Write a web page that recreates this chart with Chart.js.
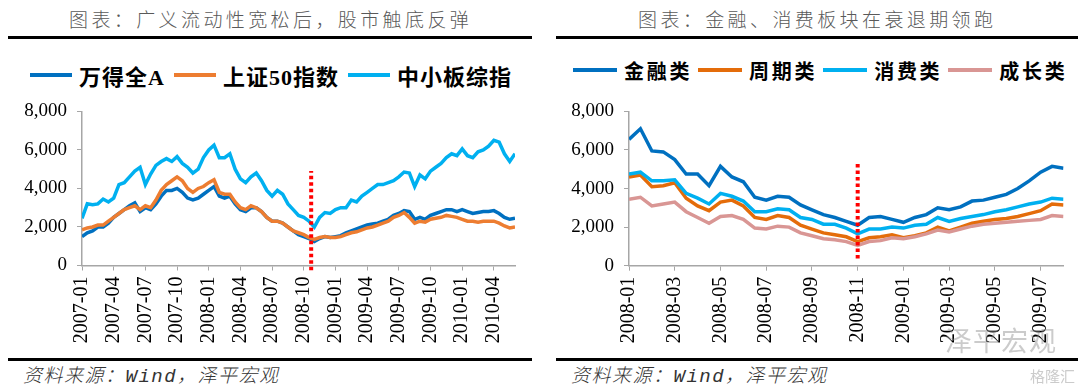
<!DOCTYPE html>
<html>
<head>
<meta charset="utf-8">
<script src="https://cdn.jsdelivr.net/npm/chart.js@4.4.0/dist/chart.umd.min.js"></script>
<style>
  body { margin: 0; width: 1080px; height: 384px; background: #fff; position: relative; overflow: hidden; }
  .title { position: absolute; top: 6px; line-height: 26px; font-family: "Noto Sans CJK SC", sans-serif; font-weight: 300;
           font-size: 19px; letter-spacing: 3.4px; color: #595959; white-space: nowrap; }
  .rule { position: absolute; height: 3px; background: #000; }
  .legend { position: absolute; display: flex; align-items: center; height: 28px; white-space: nowrap;
            font-family: "Liberation Serif", "Noto Sans CJK SC", serif; font-weight: bold; color: #000; }
  .legend i { display: inline-block; height: 4px; margin-right: 7px; }
  #legendLeft { font-size: 22px; letter-spacing: 1px; }
  #legendLeft i { width: 42px; }
  #legendLeft span { margin-right: 9px; }
  #legendRight { font-size: 20px; letter-spacing: 2.7px; }
  #legendRight i { width: 44px; }
  #legendRight span { margin-right: 6px; }
  .source { position: absolute; top: 364px; line-height: 26px; font-family: "Liberation Mono", "Noto Sans CJK SC", monospace;
            font-style: italic; font-weight: 300; font-size: 19px; letter-spacing: 1.5px; color: #333; white-space: nowrap; }
  .box { position: absolute; top: 90px; width: 540px; height: 270px; }
  .mark { position: absolute; font-family: "Noto Sans CJK SC", sans-serif; color: rgba(140,140,140,0.45); white-space: nowrap; }
</style>
</head>
<body>
<div class="title" style="left:69px">图表：广义流动性宽松后，股市触底反弹</div>
<div class="title" style="left:638px">图表：金融、消费板块在衰退期领跑</div>
<div class="rule" style="left:8px;top:36px;width:524px"></div>
<div class="rule" style="left:556px;top:36px;width:522px"></div>

<div class="legend" style="left:30px;top:61px" id="legendLeft"></div>
<div class="legend" style="left:573px;top:56px" id="legendRight"></div>

<div class="box" style="left:0px"><canvas id="leftChart"></canvas></div>
<div class="box" style="left:540px"><canvas id="rightChart"></canvas></div>

<div class="mark" style="left:945px;top:320px;font-size:27px;letter-spacing:1px">泽平宏观</div>
<div class="mark" style="left:1030px;top:365px;font-size:15px">格隆汇</div>

<div class="rule" style="left:8px;top:358px;width:524px"></div>
<div class="rule" style="left:556px;top:358px;width:522px"></div>
<div class="source" style="left:23px">资料来源：Wind，泽平宏观</div>
<div class="source" style="left:571px">资料来源：Wind，泽平宏观</div>

<script>
// ---- left chart: half-monthly readings from 2007-01 to 2010-05 ----
var leftStep = 0.5;   // months between readings
var leftTickLabels = ['2007-01', '2007-04', '2007-07', '2007-10', '2008-01', '2008-04', '2008-07',
                      '2008-10', '2009-01', '2009-04', '2009-07', '2009-10', '2010-01', '2010-04'];
var windA = [1500, 1700, 1800, 2000, 2000, 2200, 2500, 2700, 2900, 3100, 3250, 2800, 3000, 2900,
             3200, 3600, 3900, 3900, 4000, 3800, 3500, 3400, 3500, 3700, 3900, 4100, 3600, 3500,
             3600, 3200, 2900, 2800, 3000, 3000, 2800, 2500, 2300, 2300, 2200, 2000, 1800, 1600,
             1500, 1400, 1250, 1400, 1500, 1450, 1500, 1550, 1700, 1800, 1900, 2000, 2100, 2150,
             2200, 2300, 2400, 2600, 2700, 2850, 2800, 2400, 2500, 2400, 2600, 2700, 2800, 2900,
             2900, 2800, 2900, 2800, 2700, 2750, 2800, 2800, 2850, 2700, 2500, 2400, 2450];
var sse50 = [1850, 1950, 2000, 2100, 2100, 2300, 2500, 2700, 2900, 3000, 3100, 2900, 3100, 3000,
             3400, 3900, 4200, 4400, 4600, 4400, 4000, 3800, 4000, 4100, 4300, 4450, 3800, 3700,
             3700, 3300, 3000, 2900, 3100, 3000, 2800, 2500, 2300, 2300, 2200, 2000, 1800, 1700,
             1600, 1450, 1350, 1450, 1500, 1450, 1450, 1500, 1600, 1700, 1750, 1850, 1950, 2000,
             2100, 2200, 2300, 2500, 2600, 2750, 2500, 2200, 2300, 2250, 2400, 2450, 2500, 2600,
             2550, 2500, 2400, 2300, 2300, 2250, 2300, 2300, 2300, 2200, 2050, 1950, 2000];
var smeComposite = [2450, 3200, 3150, 3200, 3450, 3300, 3500, 4200, 4300, 4600, 4900, 5100, 4200, 4750,
             5200, 5400, 5550, 5400, 5650, 5300, 5100, 4800, 5000, 5600, 6000, 6250, 5600, 5600,
             5800, 5000, 4500, 4300, 4600, 4800, 4400, 3900, 3600, 3900, 3700, 3200, 2900, 2600,
             2500, 2300, 2000, 2500, 2750, 2700, 2900, 3000, 3000, 3400, 3300, 3600, 3800, 4000,
             4200, 4200, 4300, 4400, 4600, 4850, 4800, 4100, 4700, 4500, 4900, 5100, 5300, 5600,
             5800, 5700, 6050, 5700, 5600, 5900, 6000, 6200, 6500, 6400, 5800, 5400, 5800];
var leftMarker = { month: 21.7, low: -250, high: 4900 };   // late Nov 2008

// ---- right chart: half-monthly readings from 2008-01 to 2009-08 ----
var rightStep = 0.5;
var rightTickLabels = ['2008-01', '2008-03', '2008-05', '2008-07', '2008-09',
                       '2008-11', '2009-01', '2009-03', '2009-05', '2009-07'];
var finance = [6550, 7100, 5950, 5900, 5500, 4750, 4750, 4150, 5150, 4600, 4350, 3550, 3400, 3600,
               3550, 3150, 2900, 2650, 2500, 2300, 2100, 2500, 2550, 2400, 2250, 2500, 2650, 3000,
               2900, 3050, 3350, 3400, 3550, 3700, 4000, 4400, 4850, 5150, 5050];
var cyclical = [4600, 4700, 4100, 4150, 4300, 3500, 3100, 2850, 3300, 3400, 3100, 2500, 2400, 2600,
               2500, 2100, 1900, 1700, 1600, 1500, 1250, 1450, 1500, 1600, 1450, 1550, 1700, 2000,
               1800, 2000, 2200, 2300, 2400, 2450, 2550, 2700, 2850, 3200, 3150];
var consumer = [4750, 4850, 4400, 4400, 4450, 3750, 3500, 3200, 3750, 3600, 3350, 2800, 2800, 2950,
               2900, 2500, 2400, 2150, 2150, 1950, 1650, 1900, 1900, 2000, 1950, 2100, 2150, 2500,
               2300, 2450, 2550, 2650, 2800, 2900, 3050, 3200, 3300, 3500, 3450];
var growth = [3450, 3550, 3100, 3200, 3300, 2800, 2500, 2200, 2550, 2600, 2400, 1950, 1900, 2050,
               2000, 1700, 1550, 1400, 1350, 1250, 1050, 1250, 1300, 1450, 1400, 1500, 1650, 1850,
               1750, 1900, 2050, 2150, 2200, 2250, 2300, 2350, 2400, 2600, 2550];
var rightMarker = { month: 10, low: 370, high: 5300 };      // 2008-11

var yTicks = { min: 0, max: 8000, step: 2000 };

var leftSeries = [
    { name: '万得全A', values: windA, color: '#0070C0', order: 3 },
    { name: '上证50指数', values: sse50, color: '#ED7D31', order: 2 },
    { name: '中小板综指', values: smeComposite, color: '#00B0F0', order: 1 }
];
var rightSeries = [
    { name: '金融类', values: finance, color: '#0070C0', order: 4 },
    { name: '周期类', values: cyclical, color: '#E46C0A', order: 3 },
    { name: '消费类', values: consumer, color: '#00B0F0', order: 2 },
    { name: '成长类', values: growth, color: '#D99694', order: 1 }
];

function buildLegend(id, series) {
    var el = document.getElementById(id);
    series.forEach(function (s) {
        var line = document.createElement('i');
        line.style.background = s.color;
        var txt = document.createElement('span');
        txt.textContent = s.name;
        el.appendChild(line);
        el.appendChild(txt);
    });
}
buildLegend('legendLeft', leftSeries);
buildLegend('legendRight', rightSeries);

var tickFont = { family: 'Liberation Serif', size: 19 };
var axisGray = '#A6A6A6';

function makeChart(canvasId, series, step, tickLabels, tickEvery, marker, box) {
    var datasets = series.map(function (s) {
        return {
            label: s.name,
            data: s.values.map(function (v, i) { return { x: i * step, y: v }; }),
            borderColor: s.color,
            borderWidth: 3.5,
            pointRadius: 0,
            tension: 0,
            order: s.order
        };
    });
    // red dotted line marking the policy turn
    datasets.push({
        label: 'marker',
        data: [{ x: marker.month, y: marker.low }, { x: marker.month, y: marker.high }],
        borderColor: '#FF0000',
        borderWidth: 4,
        borderDash: [3.5, 3],
        pointRadius: 0,
        clip: false,
        order: 0
    });
    var lastX = (series[0].values.length - 1) * step;

    return new Chart(document.getElementById(canvasId).getContext('2d'), {
        type: 'line',
        data: { datasets: datasets },
        options: {
            responsive: true,
            maintainAspectRatio: false,
            animation: false,
            layout: { padding: { left: 0, right: box.right, top: box.top, bottom: 0 } },
            plugins: { legend: { display: false }, tooltip: { enabled: false } },
            scales: {
                x: {
                    type: 'linear',
                    min: 0,
                    max: lastX,
                    afterFit: function (scale) { scale.height = box.xHeight; },
                    grid: { drawOnChartArea: false, tickLength: 5, color: axisGray },
                    border: { color: axisGray, width: 1.5 },
                    ticks: {
                        stepSize: tickEvery,
                        includeBounds: false,
                        autoSkip: false,
                        minRotation: 90,
                        maxRotation: 90,
                        padding: 6,
                        color: '#000',
                        font: { family: 'Liberation Serif', size: 20 },
                        callback: function (value) {
                            var k = Math.round(value / tickEvery);
                            return tickLabels[k] || '';
                        }
                    }
                },
                y: {
                    min: yTicks.min,
                    max: yTicks.max,
                    afterFit: function (scale) { scale.width = box.yWidth; },
                    grid: { drawOnChartArea: false, tickLength: 5, color: axisGray },
                    border: { color: axisGray, width: 1.5 },
                    ticks: {
                        stepSize: yTicks.step,
                        padding: 10,
                        color: '#000',
                        font: tickFont,
                        callback: function (value) { return value.toLocaleString('en-US'); }
                    }
                }
            }
        }
    });
}

var leftChart = makeChart('leftChart', leftSeries, leftStep, leftTickLabels, 3, leftMarker,
    { right: 25, top: 20, yWidth: 82, xHeight: 94.5 });
var rightChart = makeChart('rightChart', rightSeries, rightStep, rightTickLabels, 2, rightMarker,
    { right: 16.5, top: 14, yWidth: 89, xHeight: 94.3 });
</script>
</body>
</html>
